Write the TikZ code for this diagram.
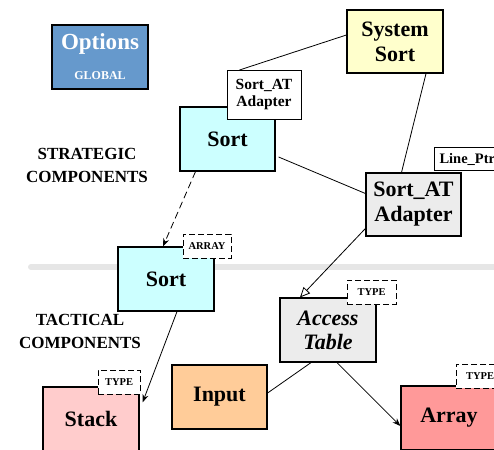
\documentclass[tikz,border=0pt]{standalone}
\usepackage{fontspec}
\setmainfont{Liberation Serif}
\usetikzlibrary{arrows.meta,backgrounds}

\definecolor{optblue}{RGB}{102,153,204}
\definecolor{sysyellow}{RGB}{255,255,204}
\definecolor{sortcyan}{RGB}{204,255,255}
\definecolor{adaptgrey}{RGB}{236,236,236}
\definecolor{stackpink}{RGB}{255,204,204}
\definecolor{inputorange}{RGB}{255,204,153}
\definecolor{arrayred}{RGB}{255,153,153}
\definecolor{bandgrey}{RGB}{230,230,230}

\begin{document}
\begin{tikzpicture}[x=1pt,y=-1pt,
  comp/.style={draw,line width=1.2pt,minimum width=96pt,minimum height=64pt,inner sep=0pt,align=center,font=\bfseries\fontsize{22}{25}\selectfont},
  tag/.style={draw,fill=white,line width=1pt,inner sep=2pt,align=center,font=\bfseries\fontsize{15.5}{17}\selectfont},
  param/.style={draw,dash pattern=on 6pt off 3pt,fill=white,line width=1pt,minimum height=24pt,inner sep=2pt,font=\bfseries\fontsize{10.5}{10}\selectfont},
  layer/.style={align=center,font=\bfseries\fontsize{17}{23}\selectfont},
  link/.style={line width=0.8pt}]
\useasboundingbox (0,0) rectangle (494,449);
\clip (0,0) rectangle (494,449);

% strategic level
\node[comp,fill=optblue,text=white,font=\bfseries\fontsize{23}{25}\selectfont] (opt) at (100,57) {Options\\[5pt]{\fontsize{12}{12}\selectfont GLOBAL}};
\node[comp,fill=sysyellow,minimum height=63pt] (sys) at (395,41.5) {System\\Sort};
\node[comp,fill=sortcyan,minimum width=95pt] (sortS) at (227.5,139) {Sort};
\node[tag,minimum width=74pt,minimum height=49pt] (adtag) at (264,95) {Sort\_AT\\Adapter};
\node[comp,fill=adaptgrey,minimum width=95pt,minimum height=63pt] (adapt) at (413.5,204.5) {Sort\_AT\\Adapter};
\node[tag,anchor=north west,minimum height=23pt,text width=60pt,align=left,inner xsep=5pt,font=\bfseries\fontsize{14.5}{17}\selectfont] (ptr) at (434,147) {Line\_Ptr};
\node[layer] (strat) at (87,165) {STRATEGIC\\COMPONENTS};

% tactical level
\node[comp,fill=sortcyan] (sortT) at (166,279) {Sort};
\node[param,minimum width=48pt] (arr) at (207,246) {ARRAY};
\node[layer] (tact) at (80,331) {TACTICAL\\COMPONENTS};
\node[comp,fill=stackpink] (stack) at (91,419) {Stack};
\node[param,minimum width=42pt] (tstack) at (119,382) {TYPE};
\node[comp,fill=inputorange,minimum width=95pt] (inp) at (219.5,397) {Input};
\node[comp,fill=adaptgrey,font=\bfseries\itshape\fontsize{22}{24}\selectfont] (acc) at (328,330) {Access\\Table};
\node[param,minimum width=49pt] (tacc) at (371.5,292) {TYPE};
\node[comp,fill=arrayred] (array) at (449,418) {Array};
\node[param,minimum width=48pt] (tarr) at (480,376) {TYPE};

% band and connections
\begin{scope}[on background layer]
\draw[bandgrey,line width=6pt,line cap=round] (31,267) -- (500,267);
\draw[link] (sys.west) ++(0,-6.5) -- ([xshift=13pt]adtag.north west);
\draw[link] ([xshift=31pt]sys.south) -- ([xshift=-12pt]adapt.north);
\draw[link] ([xshift=3pt,yshift=-18pt]sortS.east) -- ([yshift=11pt]adapt.west);
\draw[link,dash pattern=on 7pt off 4pt,-{Stealth[length=8pt,width=6pt]}] ([xshift=-32pt]sortS.south) -- ([xshift=-3pt]sortT.north);
\draw[link,-{Stealth[length=8pt,width=6pt]}] ([xshift=11pt]sortT.south) -- ([xshift=3pt,yshift=-16pt]stack.north east);
\draw[link,-{Triangle[open,length=10pt,width=9pt]}] ([yshift=-24pt]adapt.west) -- ([xshift=-28pt]acc.north);
\draw[link] ([xshift=-17pt]acc.south) -- ([yshift=4pt]inp.east);
\draw[link,-{Stealth[length=8pt,width=6pt]}] ([xshift=9pt]acc.south) -- ([yshift=-8pt]array.west);
\end{scope}
\end{tikzpicture}
\end{document}
